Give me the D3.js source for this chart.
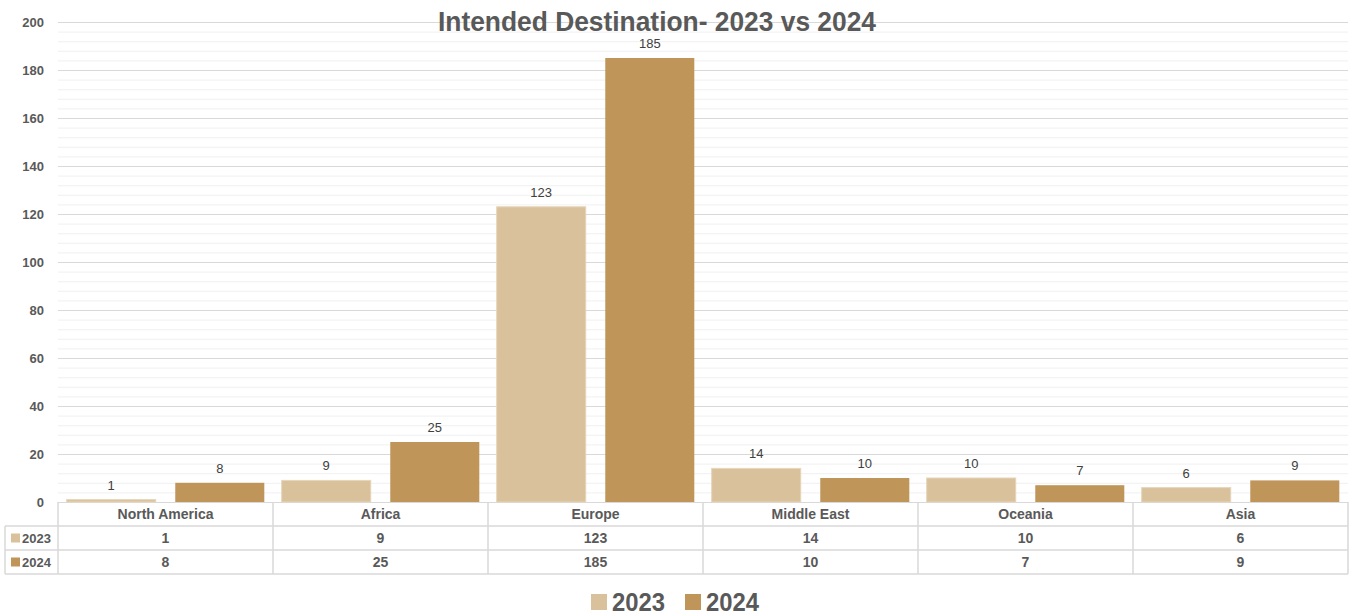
<!DOCTYPE html>
<html>
<head>
<meta charset="utf-8">
<script src="https://cdn.jsdelivr.net/npm/d3@7"></script>
<style>
  body { margin: 0; background: #fff; }
  text { font-family: "Liberation Sans Narrow", "Arial Narrow", "Liberation Sans", Arial, sans-serif; }
</style>
</head>
<body>
<div id="chart"></div>
<script>
// Data
const categories = ['North America', 'Africa', 'Europe', 'Middle East', 'Oceania', 'Asia'];
const seriesNames = ['2023', '2024'];
const values2023 = [1, 9, 123, 14, 10, 6];
const values2024 = [8, 25, 185, 10, 7, 9];
const yTicks = [0, 20, 40, 60, 80, 100, 120, 140, 160, 180, 200];

const colors = { '2023': '#d9c19c', '2024': '#bf955a' };
const textColor = '#595959';

const W = 1352, H = 615;
const plot = { left: 58, right: 1348, top: 22, bottom: 502 };
const rowH = 24;

const svg = d3.select('#chart').append('svg')
  .attr('width', W)
  .attr('height', H);

// Scales
const x = d3.scaleBand()
  .domain(categories)
  .range([plot.left, plot.right]);

const x1 = d3.scaleBand()
  .domain(seriesNames)
  .range([0, x.bandwidth()])
  .paddingInner(0.18)
  .paddingOuter(0.08);

const y = d3.scaleLinear()
  .domain([0, 200])
  .range([plot.bottom, plot.top]);

// minor gridlines every 4
const minor = d3.range(0, 201, 4).filter(v => v % 20 !== 0);
svg.append('g').selectAll('line')
  .data(minor)
  .enter().append('line')
    .attr('x1', plot.left).attr('x2', plot.right)
    .attr('y1', d => y(d) + 0.5).attr('y2', d => y(d) + 0.5)
    .attr('stroke', '#f0f0f0');

// major gridlines + y labels
const yAxis = d3.axisLeft(y)
  .tickValues(yTicks)
  .tickSize(-(plot.right - plot.left))
  .tickPadding(14);

svg.append('g')
  .attr('transform', 'translate(' + plot.left + ',0)')
  .call(yAxis)
  .call(g => g.select('.domain').remove())
  .call(g => g.selectAll('.tick line').attr('stroke', '#d9d9d9'))
  .call(g => g.selectAll('.tick text')
    .attr('fill', textColor)
    .attr('font-size', 13)
    .attr('font-weight', 'bold')
    .attr('dy', '0.35em'));

// Title
svg.append('text')
  .attr('x', 657)
  .attr('y', 31)
  .attr('text-anchor', 'middle')
  .attr('font-size', 28)
  .attr('font-weight', 'bold')
  .attr('fill', textColor)
  .attr('textLength', 438)
  .attr('lengthAdjust', 'spacingAndGlyphs')
  .text('Intended Destination- 2023 vs 2024');

// Bars
const rows = categories.map((c, i) => ({
  cat: c,
  vals: [{ s: '2023', v: values2023[i] }, { s: '2024', v: values2024[i] }]
}));

const groups = svg.append('g').selectAll('g')
  .data(rows)
  .enter().append('g')
    .attr('transform', d => 'translate(' + x(d.cat) + ',0)');

groups.selectAll('rect')
  .data(d => d.vals)
  .enter().append('rect')
    .attr('x', d => x1(d.s))
    .attr('width', x1.bandwidth())
    .attr('y', d => y(d.v))
    .attr('height', d => y(0) - y(d.v))
    .attr('fill', d => colors[d.s])
    .attr('stroke', d => d.s === '2023' ? '#e6d5ba' : 'none')
    .attr('stroke-width', 1);

groups.selectAll('text')
  .data(d => d.vals)
  .enter().append('text')
    .attr('x', d => x1(d.s) + x1.bandwidth() / 2)
    .attr('y', d => y(d.v) - 10)
    .attr('text-anchor', 'middle')
    .attr('font-size', 13)
    .attr('fill', '#404040')
    .text(d => d.v);

// Data table
const table = svg.append('g');
const tableTop = plot.bottom;
const tableLeft = 5;
const lineColor = '#d9d9d9';

// horizontal lines
[1, 2, 3].forEach(r => {
  table.append('line')
    .attr('x1', r === 1 ? plot.left : tableLeft).attr('x2', plot.right)
    .attr('y1', tableTop + r * rowH).attr('y2', tableTop + r * rowH)
    .attr('stroke', lineColor).attr('stroke-width', 1.5);
});
table.append('line')
  .attr('x1', tableLeft).attr('x2', plot.left)
  .attr('y1', tableTop + rowH).attr('y2', tableTop + rowH)
  .attr('stroke', lineColor).attr('stroke-width', 1.5);

// vertical lines
const vlines = categories.map(c => x(c)).concat([plot.right]);
vlines.forEach(vx => {
  table.append('line')
    .attr('x1', vx).attr('x2', vx)
    .attr('y1', tableTop).attr('y2', tableTop + 3 * rowH)
    .attr('stroke', lineColor).attr('stroke-width', 1.5);
});
table.append('line')
  .attr('x1', tableLeft).attr('x2', tableLeft)
  .attr('y1', tableTop + rowH).attr('y2', tableTop + 3 * rowH)
  .attr('stroke', lineColor).attr('stroke-width', 1.5);

// header row
table.selectAll('.hdr')
  .data(categories)
  .enter().append('text')
    .attr('class', 'hdr')
    .attr('x', d => x(d) + x.bandwidth() / 2)
    .attr('y', tableTop + rowH / 2)
    .attr('dy', '0.35em')
    .attr('text-anchor', 'middle')
    .attr('font-size', 14)
    .attr('font-weight', 'bold')
    .attr('fill', textColor)
    .text(d => d);

// value rows
[values2023, values2024].forEach((vals, r) => {
  const ry = tableTop + (r + 1) * rowH;
  table.append('rect')
    .attr('x', 11).attr('y', ry + rowH / 2 - 4.5)
    .attr('width', 9).attr('height', 9)
    .attr('fill', colors[seriesNames[r]]);
  table.append('text')
    .attr('x', 22).attr('y', ry + rowH / 2)
    .attr('dy', '0.35em')
    .attr('font-size', 13)
    .attr('font-weight', 'bold')
    .attr('fill', textColor)
    .text(seriesNames[r]);
  table.selectAll('.v' + r)
    .data(vals)
    .enter().append('text')
      .attr('x', (d, i) => x(categories[i]) + x.bandwidth() / 2)
      .attr('y', ry + rowH / 2)
      .attr('dy', '0.35em')
      .attr('text-anchor', 'middle')
      .attr('font-size', 14)
      .attr('font-weight', 'bold')
      .attr('fill', textColor)
      .text(d => d);
});

// Legend
const legend = svg.append('g');
const legendX = [591, 685];
seriesNames.forEach((s, i) => {
  legend.append('rect')
    .attr('x', legendX[i]).attr('y', 594)
    .attr('width', 16).attr('height', 16)
    .attr('fill', colors[s]);
  legend.append('text')
    .attr('x', legendX[i] + 21).attr('y', 611)
    .attr('font-size', 25)
    .attr('font-weight', 'bold')
    .attr('fill', textColor)
    .attr('textLength', 53)
    .attr('lengthAdjust', 'spacingAndGlyphs')
    .text(s);
});
</script>
</body>
</html>
